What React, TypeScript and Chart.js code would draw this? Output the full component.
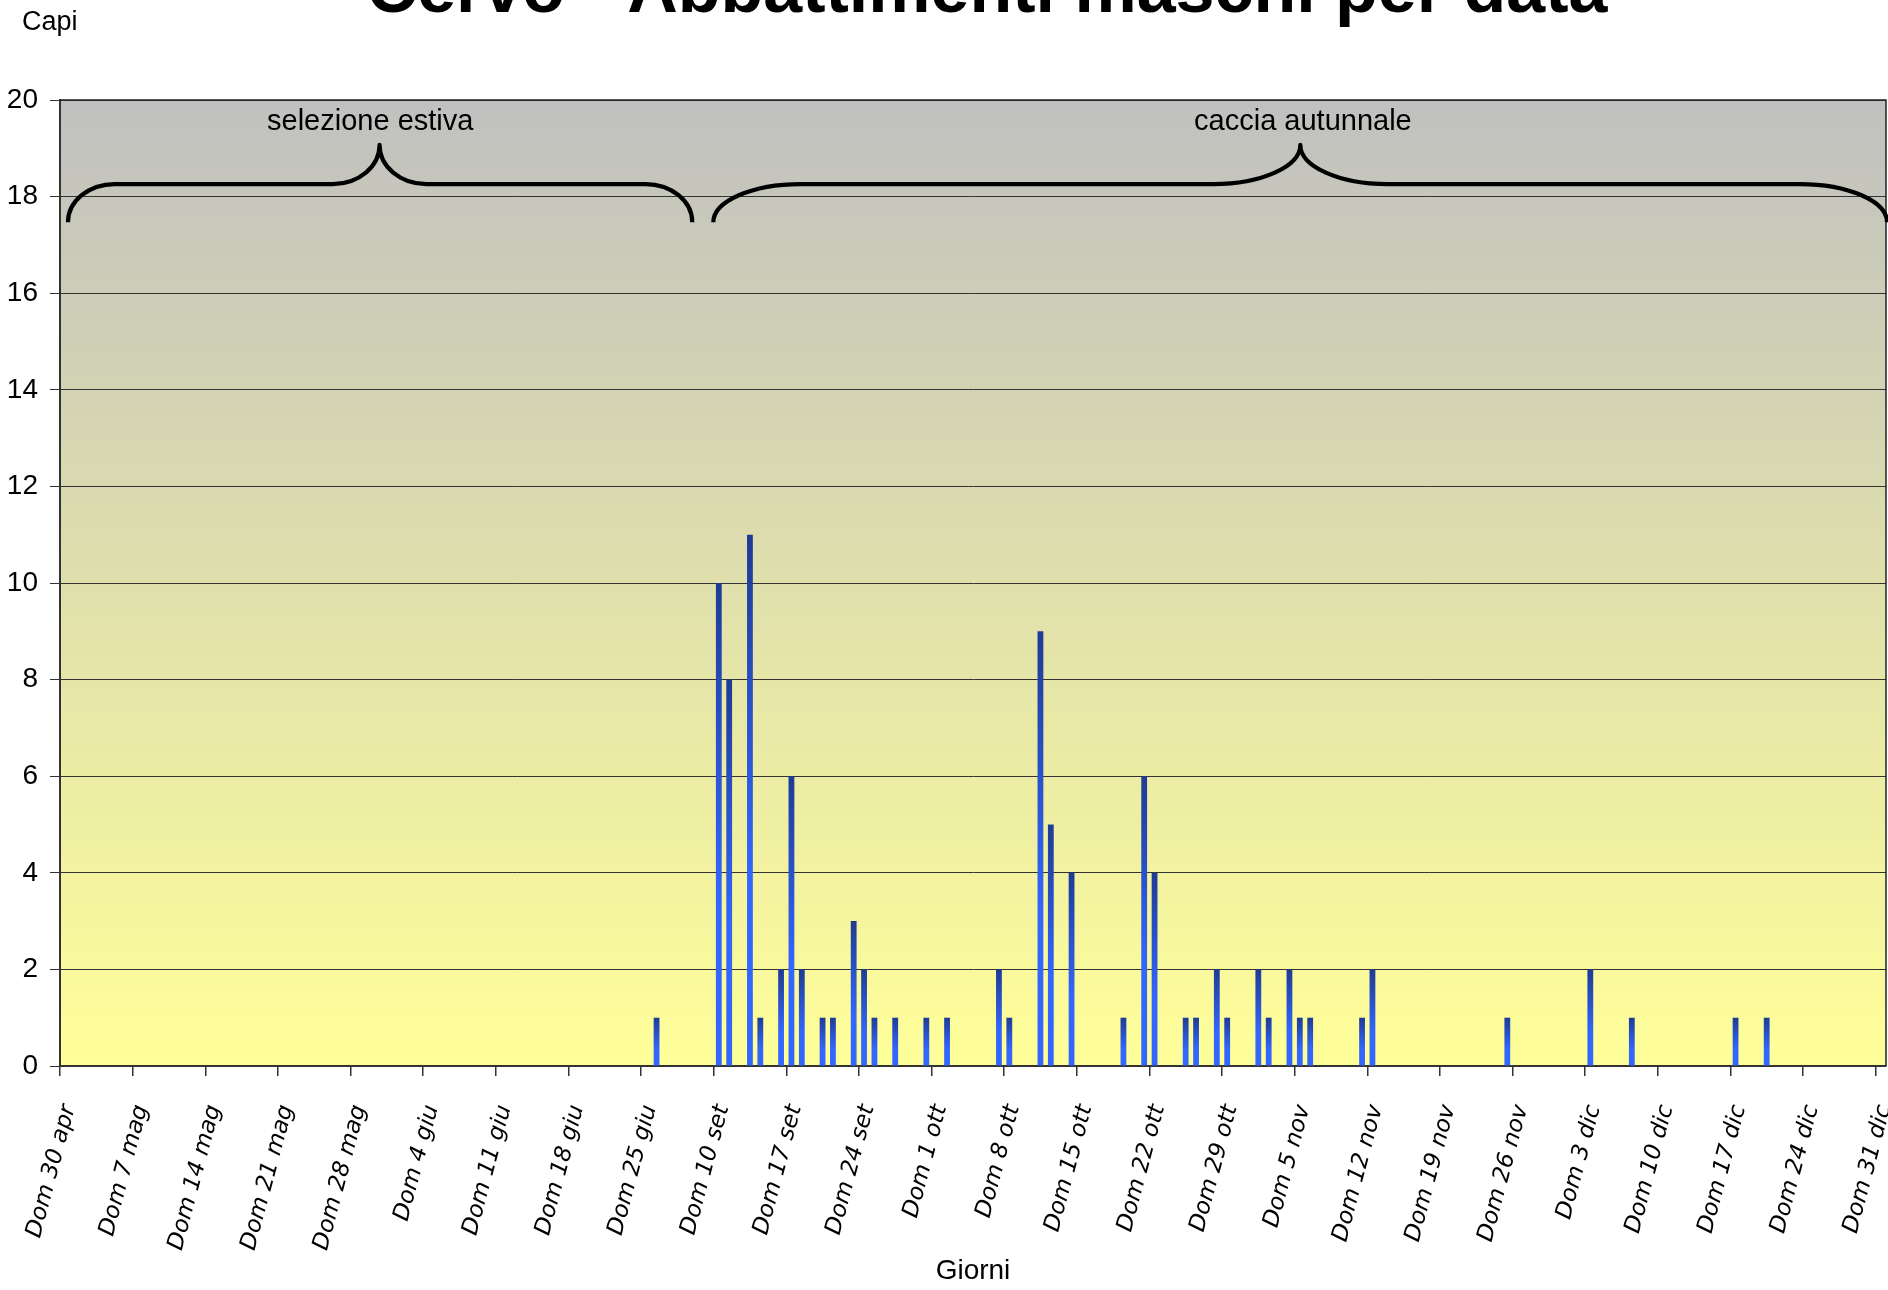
import React, { useEffect, useRef } from 'react';
import { Chart, registerables } from 'chart.js';

Chart.register(...registerables);

// ---------- texts ----------
const TITLE = 'Cervo - Abbattimenti maschi per data';
const Y_TITLE = 'Capi';
const X_TITLE = 'Giorni';
const WEEKDAYS = ['Dom', 'Lun', 'Mar', 'Mer', 'Gio', 'Ven', 'Sab'];
const MONTHS = ['gen', 'feb', 'mar', 'apr', 'mag', 'giu', 'lug', 'ago', 'set', 'ott', 'nov', 'dic'];

// ---------- categories: two periods of days (2006) ----------
const PERIOD_STARTS: [number, number, number][] = [
  [2006, 3, 30], // 30 apr
  [2006, 8, 10], // 10 set
];
const PERIOD_DAYS = [63, 113];

// ---------- data: kills per day ----------
const KILL_DATES = [
  '26 giu', '10 set', '11 set', '13 set', '14 set', '16 set', '17 set', '18 set', '20 set', '21 set',
  '23 set', '24 set', '25 set', '27 set', '30 set', '2 ott', '7 ott', '8 ott', '11 ott', '12 ott',
  '14 ott', '19 ott', '21 ott', '22 ott', '25 ott', '26 ott', '28 ott', '29 ott', '1 nov', '2 nov',
  '4 nov', '5 nov', '6 nov', '11 nov', '12 nov', '25 nov', '3 dic', '7 dic', '17 dic', '20 dic',
];
const KILL_COUNTS = [
  1, 10, 8, 11, 1, 2, 6, 2, 1, 1,
  3, 2, 1, 1, 1, 1, 2, 1, 9, 5,
  4, 1, 6, 4, 1, 1, 2, 1, 2, 1,
  2, 1, 1, 1, 2, 1, 2, 1, 1, 1,
];

// ---------- y axis ----------
const Y_MIN = 0;
const Y_MAX = 20;
const Y_STEP = 2;

// ---------- brace annotations (data units) ----------
const BRACE_LABELS = ['selezione estiva', 'caccia autunnale'];
const BRACE_FROM = [0.27, 62.47];
const BRACE_TIP = [30.3, 119.05];
const BRACE_TO = [60.44, 175.6];
const BRACE_CURVE = [4.5, 8.4];
const BRACE_LABEL_X = [29.4, 119.3];
const BRACE_END_Y = 17.47;
const BRACE_FLAT_Y = 18.26;
const BRACE_TIP_Y = 19.07;
const BRACE_LABEL_Y = 19.54;

// ---------- build categories ----------
const DAY_KEYS: string[] = [];
const LABELS: string[] = [];
PERIOD_STARTS.forEach(([y, m, d], p) => {
  for (let i = 0; i < PERIOD_DAYS[p]; i++) {
    const dt = new Date(y, m, d + i, 12);
    const key = `${dt.getDate()} ${MONTHS[dt.getMonth()]}`;
    DAY_KEYS.push(key);
    LABELS.push(`${WEEKDAYS[dt.getDay()]} ${key}`);
  }
});
const VALUES: (number | null)[] = DAY_KEYS.map((k) => {
  const i = KILL_DATES.indexOf(k);
  return i >= 0 ? KILL_COUNTS[i] : null;
});
const isSunday = (i: number) => !!LABELS[i] && LABELS[i].startsWith('Dom');

const BAR_TOP = '#1e3b94';
const BAR_BOTTOM = '#3366ff';
const BG_TOP = '#c0c0c0';
const BG_BOTTOM = '#ffff99';
const NARROW = '"Liberation Sans", "Arial", sans-serif';

const backgroundPlugin = {
  id: 'plotBg',
  beforeDraw(chart: any) {
    const { ctx, chartArea: a } = chart;
    if (!a) return;
    const g = ctx.createLinearGradient(0, a.top, 0, a.bottom);
    g.addColorStop(0, BG_TOP);
    g.addColorStop(1, BG_BOTTOM);
    ctx.save();
    ctx.fillStyle = g;
    ctx.fillRect(a.left, a.top, a.right - a.left, a.bottom - a.top);
    ctx.restore();
  },
};

function drawBrace(ctx: CanvasRenderingContext2D, xL: number, xM: number, xR: number, yEnd: number, yFlat: number, yTip: number, w: number) {
  const k = 0.5523;
  const dyE = yEnd - yFlat;
  const dyT = yFlat - yTip;
  ctx.beginPath();
  ctx.moveTo(xL, yEnd);
  ctx.bezierCurveTo(xL, yEnd - k * dyE, xL + w - k * w, yFlat, xL + w, yFlat);
  ctx.lineTo(xM - w, yFlat);
  ctx.bezierCurveTo(xM - w + k * w, yFlat, xM, yTip + k * dyT, xM, yTip);
  ctx.bezierCurveTo(xM, yTip + k * dyT, xM + w - k * w, yFlat, xM + w, yFlat);
  ctx.lineTo(xR - w, yFlat);
  ctx.bezierCurveTo(xR - w + k * w, yFlat, xR, yEnd - k * dyE, xR, yEnd);
  ctx.stroke();
}

const overlayPlugin = {
  id: 'overlay',
  afterDatasetsDraw(chart: any) {
    const { ctx, chartArea: a, scales } = chart;
    const xs = scales.x;
    const ys = scales.y;
    ctx.save();
    // frame top & right
    ctx.strokeStyle = '#222';
    ctx.lineWidth = 1.5;
    ctx.beginPath();
    ctx.moveTo(a.left, a.top);
    ctx.lineTo(a.right, a.top);
    ctx.lineTo(a.right, a.bottom);
    ctx.stroke();
    // braces
    ctx.strokeStyle = '#000';
    ctx.lineWidth = 4.2;
    ctx.lineJoin = 'round';
    const yEnd = ys.getPixelForValue(BRACE_END_Y);
    const yFlat = ys.getPixelForValue(BRACE_FLAT_Y);
    const yTip = ys.getPixelForValue(BRACE_TIP_Y);
    const yLab = ys.getPixelForValue(BRACE_LABEL_Y);
    BRACE_LABELS.forEach((lab, i) => {
      const xL = xs.getPixelForValue(BRACE_FROM[i]);
      const xM = xs.getPixelForValue(BRACE_TIP[i]);
      const xR = xs.getPixelForValue(BRACE_TO[i]);
      const w = xs.getPixelForValue(BRACE_FROM[i] + BRACE_CURVE[i]) - xL;
      drawBrace(ctx, xL, xM, xR, yEnd, yFlat, yTip, w);
      ctx.fillStyle = '#000';
      ctx.font = `29px ${NARROW}`;
      ctx.textAlign = 'center';
      ctx.textBaseline = 'middle';
      ctx.fillText(lab, xs.getPixelForValue(BRACE_LABEL_X[i]), yLab);
    });
    ctx.restore();
  },
  afterDraw(chart: any) {
    const { ctx } = chart;
    ctx.save();
    ctx.fillStyle = '#000';
    ctx.textBaseline = 'alphabetic';
    ctx.textAlign = 'center';
    ctx.font = `bold 70px ${NARROW}`;
    ctx.fillText(TITLE, 987, 12);
    ctx.textAlign = 'left';
    ctx.font = `27px ${NARROW}`;
    ctx.fillText(Y_TITLE, 22, 30);
    ctx.restore();
  },
};

export default function App() {
  const ref = useRef<HTMLCanvasElement | null>(null);
  useEffect(() => {
    if (!ref.current) return;
    const chart = new Chart(ref.current, {
      type: 'bar',
      data: {
        labels: LABELS,
        datasets: [
          {
            label: Y_TITLE,
            data: VALUES,
            borderWidth: 0,
            categoryPercentage: 0.56,
            barPercentage: 1,
            backgroundColor: (c: any) => {
              const ch = c.chart;
              const ys = ch.scales && ch.scales.y;
              if (!ys || c.raw == null) return BAR_BOTTOM;
              const top = ys.getPixelForValue(c.raw);
              const base = ys.getPixelForValue(0);
              if (!isFinite(top) || !isFinite(base) || top === base) return BAR_BOTTOM;
              const g = ch.ctx.createLinearGradient(0, top, 0, base);
              g.addColorStop(0, BAR_TOP);
              g.addColorStop(0.65, BAR_BOTTOM);
              g.addColorStop(1, BAR_BOTTOM);
              return g;
            },
          },
        ],
      },
      options: {
        responsive: false,
        devicePixelRatio: 1,
        animation: false,
        layout: { padding: { top: 100, right: 2, bottom: 0, left: 0 } },
        plugins: {
          legend: { display: false },
          title: { display: false },
          tooltip: { enabled: false },
        },
        scales: {
          x: {
            type: 'category',
            offset: true,
            grid: {
              offset: true,
              drawOnChartArea: false,
              drawTicks: true,
              tickLength: 10,
              lineWidth: 1.5,
              color: (c: any) => (isSunday(c.index) ? '#333' : 'rgba(0,0,0,0)'),
            },
            border: { display: true, color: '#333', width: 2 },
            ticks: {
              autoSkip: false,
              minRotation: 75,
              maxRotation: 75,
              padding: 26,
              labelOffset: 4,
              color: '#000',
              font: { family: '"DejaVu Sans", Verdana, sans-serif', size: 23, style: 'italic' },
              callback: (_v: any, i: number) => (isSunday(i) ? LABELS[i] : ''),
            },
            title: {
              display: true,
              text: X_TITLE,
              color: '#000',
              font: { family: NARROW, size: 28 },
              padding: { top: 0, bottom: 2 },
            },
            afterFit: (s: any) => {
              s.height = 224;
              s.paddingLeft = 0;
              s.paddingRight = 0;
            },
          },
          y: {
            min: Y_MIN,
            max: Y_MAX,
            grid: { color: '#333', lineWidth: 1, tickLength: 10, drawTicks: true },
            border: { display: true, color: '#333', width: 2 },
            ticks: {
              stepSize: Y_STEP,
              padding: 12,
              color: '#000',
              font: { family: NARROW, size: 28 },
            },
            afterFit: (s: any) => {
              s.width = 60;
            },
          },
        },
      },
      plugins: [backgroundPlugin, overlayPlugin],
    } as any);
    return () => chart.destroy();
  }, []);
  return (
    <div style={{ position: 'absolute', left: 0, top: 0, width: 1888, height: 1290, background: '#fff' }}>
      <canvas ref={ref} width={1888} height={1290} style={{ display: 'block', width: 1888, height: 1290 }} />
    </div>
  );
}
